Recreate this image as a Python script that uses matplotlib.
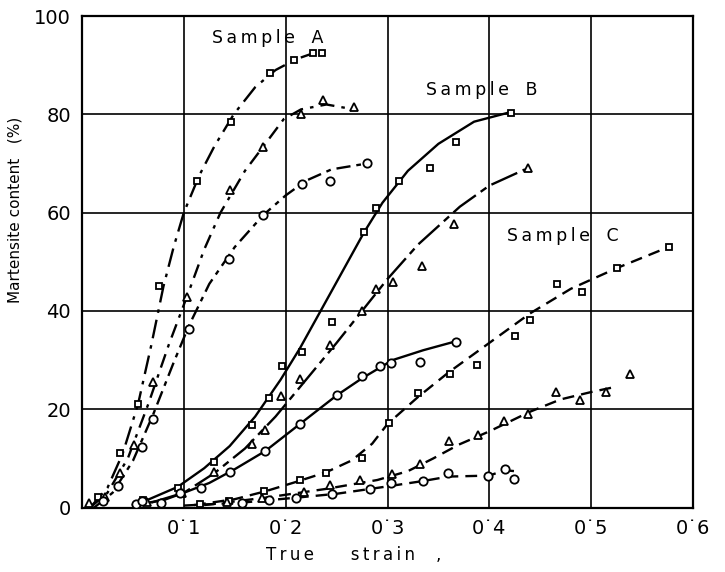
import matplotlib
matplotlib.use("Agg")
import matplotlib.pyplot as plt

# ---- data (true strain, martensite %) ----
# Sample A
a_sq_x = [0.016, 0.037, 0.055, 0.076, 0.113, 0.146, 0.185, 0.208, 0.227, 0.236]
a_sq_y = [2.2, 11.0, 21.0, 45.1, 66.4, 78.4, 88.4, 91.0, 92.4, 92.4]
a_tr_x = [0.007, 0.023, 0.037, 0.051, 0.070, 0.103, 0.145, 0.178, 0.215, 0.237, 0.267]
a_tr_y = [0.9, 2.2, 7.0, 12.7, 25.6, 42.9, 64.6, 73.3, 80.1, 82.9, 81.5]
a_ci_x = [0.021, 0.035, 0.059, 0.070, 0.105, 0.144, 0.178, 0.216, 0.244, 0.280]
a_ci_y = [1.3, 4.4, 12.4, 18.1, 36.3, 50.5, 59.5, 65.8, 66.4, 70.0]

# Sample B
b_sq_x = [0.060, 0.094, 0.130, 0.167, 0.184, 0.196, 0.216, 0.245, 0.277, 0.289, 0.311, 0.342, 0.367, 0.421]
b_sq_y = [1.5, 3.9, 9.3, 16.8, 22.2, 28.8, 31.7, 37.8, 56.0, 60.9, 66.4, 69.0, 74.4, 80.2]
b_tr_x = [0.064, 0.098, 0.130, 0.167, 0.180, 0.195, 0.214, 0.244, 0.275, 0.289, 0.305, 0.334, 0.365, 0.438]
b_tr_y = [1.2, 2.9, 7.3, 12.9, 15.8, 22.7, 26.1, 33.1, 40.0, 44.5, 45.9, 49.2, 57.6, 69.1]
b_ci_x = [0.053, 0.059, 0.078, 0.096, 0.117, 0.145, 0.180, 0.214, 0.250, 0.275, 0.293, 0.303, 0.332, 0.367]
b_ci_y = [0.7, 1.4, 1.0, 3.0, 3.9, 7.3, 11.5, 17.0, 22.9, 26.8, 28.8, 29.5, 29.7, 33.7]

# Sample C
c_sq_x = [0.116, 0.144, 0.179, 0.214, 0.240, 0.275, 0.301, 0.330, 0.361, 0.388, 0.425, 0.440, 0.466, 0.491, 0.525, 0.576]
c_sq_y = [0.7, 1.4, 3.4, 5.6, 7.0, 10.0, 17.3, 23.4, 27.2, 29.1, 34.8, 38.1, 45.5, 43.9, 48.7, 53.1]
c_tr_x = [0.142, 0.177, 0.218, 0.244, 0.273, 0.304, 0.332, 0.360, 0.389, 0.414, 0.438, 0.465, 0.489, 0.515, 0.538]
c_tr_y = [1.2, 1.9, 3.2, 4.6, 5.7, 6.8, 8.8, 13.5, 14.8, 17.7, 19.0, 23.6, 21.9, 23.6, 27.2]
c_ci_x = [0.157, 0.184, 0.210, 0.245, 0.283, 0.303, 0.335, 0.359, 0.399, 0.415, 0.424]
c_ci_y = [1.0, 1.5, 1.9, 2.7, 3.7, 4.9, 5.4, 7.0, 6.4, 7.8, 5.8]

# hand-drawn fitted curves (knots)
a_sq_cx = [0.008, 0.025, 0.040, 0.055, 0.068, 0.080, 0.090, 0.100, 0.115, 0.130, 0.149, 0.170, 0.190, 0.210, 0.228]
a_sq_cy = [0.0, 4.0, 11.0, 21.0, 33.0, 45.0, 53.0, 60.0, 67.5, 73.5, 80.0, 85.5, 89.0, 91.2, 92.5]
a_tr_cx = [0.008, 0.025, 0.045, 0.065, 0.085, 0.105, 0.120, 0.136, 0.160, 0.180, 0.198, 0.215, 0.240, 0.267]
a_tr_cy = [0.0, 3.0, 10.0, 21.0, 33.0, 44.0, 52.5, 60.0, 68.5, 74.0, 79.0, 81.0, 82.0, 81.0]
a_ci_cx = [0.012, 0.030, 0.050, 0.070, 0.090, 0.105, 0.125, 0.150, 0.178, 0.200, 0.220, 0.245, 0.280]
a_ci_cy = [0.0, 3.0, 9.5, 19.0, 29.5, 37.0, 45.5, 53.0, 59.5, 63.5, 66.5, 68.8, 70.0]

b_sq_cx = [0.066, 0.094, 0.120, 0.145, 0.170, 0.195, 0.214, 0.245, 0.277, 0.295, 0.320, 0.350, 0.385, 0.418]
b_sq_cy = [1.7, 4.2, 8.0, 12.5, 18.5, 26.0, 32.4, 44.0, 56.0, 62.0, 68.5, 74.0, 78.5, 80.3]
b_tr_cx = [0.068, 0.100, 0.130, 0.160, 0.190, 0.220, 0.250, 0.275, 0.300, 0.330, 0.371, 0.400, 0.435]
b_tr_cy = [1.0, 3.0, 7.0, 12.0, 18.5, 26.0, 33.5, 40.0, 46.5, 53.5, 61.2, 65.5, 68.8]
b_ci_cx = [0.050, 0.080, 0.100, 0.125, 0.150, 0.180, 0.214, 0.250, 0.275, 0.305, 0.335, 0.365]
b_ci_cy = [0.5, 1.5, 3.0, 5.0, 7.8, 11.5, 17.0, 22.8, 26.3, 30.0, 32.0, 33.7]

c_sq_cx = [0.110, 0.150, 0.180, 0.210, 0.240, 0.265, 0.285, 0.300, 0.330, 0.360, 0.400, 0.440, 0.480, 0.525, 0.576]
c_sq_cy = [0.5, 1.7, 3.3, 5.2, 7.2, 9.6, 13.0, 17.0, 22.5, 27.5, 33.5, 39.5, 44.5, 48.7, 53.0]
c_tr_cx = [0.120, 0.180, 0.240, 0.290, 0.320, 0.345, 0.370, 0.400, 0.440, 0.470, 0.500, 0.525]
c_tr_cy = [0.5, 2.0, 3.8, 5.6, 7.4, 10.0, 12.8, 15.5, 19.5, 22.0, 23.5, 24.6]
c_ci_cx = [0.100, 0.157, 0.210, 0.250, 0.300, 0.335, 0.360, 0.400, 0.415, 0.430]
c_ci_cy = [0.4, 1.0, 2.0, 2.8, 4.3, 5.4, 6.3, 6.5, 7.6, 7.3]

x_ticks = [0.1, 0.2, 0.3, 0.4, 0.5, 0.6]
x_tick_labels = ["0\u02d91", "0\u02d92", "0\u02d93", "0\u02d94", "0\u02d95", "0\u02d96"]
y_ticks = [0, 20, 40, 60, 80, 100]


def spaced(word):
    # the original lettering is drawn with wide letter spacing
    return "\u2009".join(word)


fig = plt.figure(figsize=(7.25, 5.72), dpi=100)
ax = fig.add_axes([0.1131, 0.1127, 0.8428, 0.8593])

lw = 1.7
styles_a = [(0, (8, 3, 1.5, 3)), (0, (6, 3, 1.5, 3)), (0, (6, 2.5, 2, 2.5))]
styles_b = ["-", (0, (12, 2.5, 3, 2.5)), "-"]
dashed = (0, (5, 3))

curves = [
    (a_sq_cx, a_sq_cy, styles_a[0]), (a_tr_cx, a_tr_cy, styles_a[1]), (a_ci_cx, a_ci_cy, styles_a[2]),
    (b_sq_cx, b_sq_cy, styles_b[0]), (b_tr_cx, b_tr_cy, styles_b[1]), (b_ci_cx, b_ci_cy, styles_b[2]),
    (c_sq_cx, c_sq_cy, dashed), (c_tr_cx, c_tr_cy, dashed), (c_ci_cx, c_ci_cy, dashed),
]
for cx, cy, ls in curves:
    ax.plot(cx, cy, color="black", lw=lw, linestyle=ls, zorder=3)

points = [
    (a_sq_x, a_sq_y, "s"), (a_tr_x, a_tr_y, "^"), (a_ci_x, a_ci_y, "o"),
    (b_sq_x, b_sq_y, "s"), (b_tr_x, b_tr_y, "^"), (b_ci_x, b_ci_y, "o"),
    (c_sq_x, c_sq_y, "s"), (c_tr_x, c_tr_y, "^"), (c_ci_x, c_ci_y, "o"),
]
sizes = {"s": 5.0, "^": 5.5, "o": 6.0}
for px, py, m in points:
    ax.plot(px, py, linestyle="none", marker=m, ms=sizes[m], mfc="white",
            mec="black", mew=1.3, zorder=4)

ax.set_xlim(0, 0.6)
ax.set_ylim(0, 100)
ax.set_xticks(x_ticks)
ax.set_xticklabels(x_tick_labels)
ax.set_yticks(y_ticks)
ax.tick_params(length=0, labelsize=14, pad=8)
ax.grid(True, color="black", lw=1.2)
ax.set_axisbelow(True)
for s in ax.spines.values():
    s.set_linewidth(1.6)

ax.text(0.182, 95.6, spaced("Sample") + "   A", ha="center", va="center", fontsize=12.5)
ax.text(0.393, 84.9, spaced("Sample") + "   B", ha="center", va="center", fontsize=12.5)
ax.text(0.472, 55.2, spaced("Sample") + "   C", ha="center", va="center", fontsize=12.5)

fig.text(0.488, 0.030, spaced("True") + "       " + spaced("strain") + "    ,",
         ha="center", va="center", fontsize=12)
ax.set_ylabel("Martensite content   (%)", fontsize=11)
ax.yaxis.set_label_coords(-0.098, 0.605)

fig.savefig("out.png", dpi=100, facecolor="white")
